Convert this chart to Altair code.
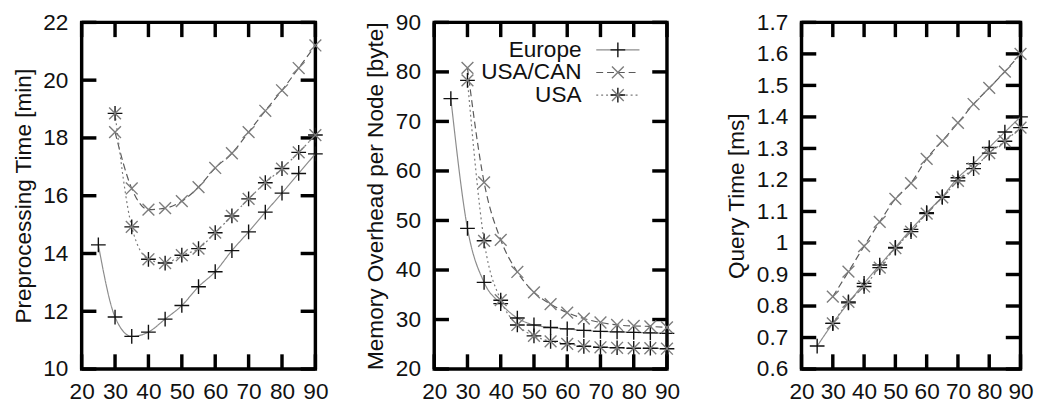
import altair as alt
import pandas as pd

# ---------------- data ----------------
x_europe = [25, 30, 35, 40, 45, 50, 55, 60, 65, 70, 75, 80, 85, 90]
x_america = [30, 35, 40, 45, 50, 55, 60, 65, 70, 75, 80, 85, 90]
series_names = ["Europe", "USA/CAN", "USA"]

pre_europe = [14.3, 11.8, 11.13, 11.28, 11.73, 12.2, 12.85, 13.37, 14.1, 14.75, 15.43, 16.09, 16.77, 17.45]
pre_usacan = [18.2, 16.25, 15.52, 15.57, 15.81, 16.3, 16.96, 17.47, 18.2, 18.94, 19.65, 20.42, 21.2]
pre_usa = [18.85, 14.92, 13.8, 13.67, 13.94, 14.17, 14.72, 15.3, 15.89, 16.45, 16.94, 17.5, 18.1]

mem_europe = [74.6, 48.4, 37.5, 33.2, 30.3, 28.9, 28.4, 28.1, 27.8, 27.6, 27.5, 27.4, 27.3, 27.2]
mem_usacan = [80.8, 57.7, 46.1, 39.6, 35.5, 33.1, 31.4, 30.2, 29.4, 28.9, 28.7, 28.6, 28.4]
mem_usa = [78.3, 45.9, 33.9, 28.9, 26.7, 25.6, 25.1, 24.6, 24.4, 24.3, 24.2, 24.2, 24.1]

qry_europe = [0.673, 0.745, 0.81, 0.872, 0.93, 0.986, 1.043, 1.096, 1.147, 1.207, 1.252, 1.303, 1.352, 1.40]
qry_usacan = [0.83, 0.909, 0.99, 1.067, 1.14, 1.19, 1.267, 1.324, 1.381, 1.441, 1.492, 1.544, 1.60]
qry_usa = [0.745, 0.813, 0.862, 0.922, 0.984, 1.036, 1.093, 1.145, 1.197, 1.236, 1.285, 1.323, 1.366]

x_ticks = [20, 30, 40, 50, 60, 70, 80, 90]
pre_ticks = [10, 12, 14, 16, 18, 20, 22]
mem_ticks = [20, 30, 40, 50, 60, 70, 80, 90]
qry_ticks = [0.6, 0.7, 0.8, 0.9, 1.0, 1.1, 1.2, 1.3, 1.4, 1.5, 1.6, 1.7]

# ---------------- style ----------------
FONT = "Liberation Sans"
FS = 23
H = 353
TICK = 15
BORDER = 3.5
MSIZE = 225
PLUS = "M-1,0L1,0M0,-1L0,1"
CROSS = "M-0.8,-0.8L0.8,0.8M-0.8,0.8L0.8,-0.8"

styles = {
    "Europe": dict(line="#8c8c8c", dash=[1, 0], marks=[(PLUS, "#111111")]),
    "USA/CAN": dict(line="#5a5a5a", dash=[7, 4], marks=[(CROSS, "#7c7c7c")]),
    "USA": dict(line="#7a7a7a", dash=[2, 3], marks=[(PLUS, "#111111"), (CROSS, "#7c7c7c")]),
}


def panel(values, ydomain, yticks, ytitle, width, frame_w, yformat="d", legend=False):
    xscale = alt.Scale(domain=[20, 90], nice=False, zero=False, range=[0, frame_w])
    yscale = alt.Scale(domain=ydomain, nice=False, zero=False)
    xaxis = alt.Axis(values=x_ticks, title=None, format="d", labelPadding=12,
                     labelOverlap=False, labelFlush=False)
    yaxis = alt.Axis(values=yticks, title=ytitle, format=yformat, labelPadding=14, titlePadding=8,
                     labelOverlap=False, labelFlush=False)

    def X(f):
        return alt.X(f, scale=xscale, axis=xaxis)

    def Y(f):
        return alt.Y(f, scale=yscale, axis=yaxis)

    layers = []
    one = pd.DataFrame({"k": [0]})
    # inward ticks
    xt = pd.DataFrame({"t": x_ticks})
    yt = pd.DataFrame({"t": yticks})
    for (a, b) in [(0, TICK), (H - TICK, H)]:
        layers.append(
            alt.Chart(xt).mark_rule(color="black", strokeWidth=BORDER).encode(
                x=X("t:Q"), y=alt.value(a), y2=alt.value(b)
            )
        )
    for (a, b) in [(0, TICK), (frame_w - TICK, frame_w)]:
        layers.append(
            alt.Chart(yt).mark_rule(color="black", strokeWidth=BORDER).encode(
                y=Y("t:Q"), x=alt.value(a), x2=alt.value(b)
            )
        )
    # frame
    layers.append(
        alt.Chart(one).mark_rect(filled=False, stroke="black", strokeWidth=BORDER).encode(
            x=alt.value(0), x2=alt.value(frame_w), y=alt.value(0), y2=alt.value(H)
        )
    )
    # data
    for name, xs, ys in values:
        st = styles[name]
        df = pd.DataFrame({"x": xs, "y": ys})
        layers.append(
            alt.Chart(df).mark_line(
                color=st["line"], strokeWidth=1.2, strokeDash=st["dash"], interpolate="monotone"
            ).encode(x=X("x:Q"), y=Y("y:Q"))
        )
        for shape, col in st["marks"]:
            layers.append(
                alt.Chart(df).mark_point(
                    shape=shape, filled=False, stroke=col, strokeWidth=1.4, size=MSIZE, opacity=1
                ).encode(x=X("x:Q"), y=Y("y:Q"))
            )
    if legend:
        text_x, l0, l1, row0, dy = 150, 165, 209, 28, 23
        for i, name in enumerate(series_names):
            st = styles[name]
            yy = row0 + i * dy
            layers.append(
                alt.Chart(pd.DataFrame({"label": [name]})).mark_text(
                    align="right", baseline="middle", font=FONT, fontSize=FS, color="#111111"
                ).encode(text="label:N", x=alt.value(text_x), y=alt.value(yy))
            )
            layers.append(
                alt.Chart(one).mark_rule(color=st["line"], strokeWidth=1.2, strokeDash=st["dash"]).encode(
                    x=alt.value(l0), x2=alt.value(l1), y=alt.value(yy)
                )
            )
            for shape, col in st["marks"]:
                layers.append(
                    alt.Chart(one).mark_point(
                        shape=shape, filled=False, stroke=col, strokeWidth=1.4, size=MSIZE, opacity=1
                    ).encode(x=alt.value((l0 + l1) / 2), y=alt.value(yy))
                )
    return alt.layer(*layers).properties(width=width, height=H)


p1 = panel(
    [("Europe", x_europe, pre_europe), ("USA/CAN", x_america, pre_usacan), ("USA", x_america, pre_usa)],
    [10, 22], pre_ticks, "Preprocessing Time [min]", 238, 238,
)
p2 = panel(
    [("Europe", x_europe, mem_europe), ("USA/CAN", x_america, mem_usacan), ("USA", x_america, mem_usa)],
    [20, 90], mem_ticks, "Memory Overhead per Node [byte]", 253, 237, legend=True,
)
p3 = panel(
    [("Europe", x_europe, qry_europe), ("USA/CAN", x_america, qry_usacan), ("USA", x_america, qry_usa)],
    [0.6, 1.7], qry_ticks, "Query Time [ms]", 223, 223, yformat="~g",
)

chart = (
    alt.hconcat(p1, p2, p3, spacing=121, bounds="flush")
    .properties(padding={"left": 4, "top": 0, "right": 16, "bottom": 0}, background="white")
    .configure_view(stroke=None)
    .configure_axis(
        labelFont=FONT, labelFontSize=FS, labelColor="#111111",
        titleFont=FONT, titleFontSize=FS, titleFontWeight="normal", titleColor="#111111",
        ticks=False, tickSize=0, domain=False, grid=False,
    )
)

chart.save("out.html", embed_options={"renderer": "svg", "actions": False})
